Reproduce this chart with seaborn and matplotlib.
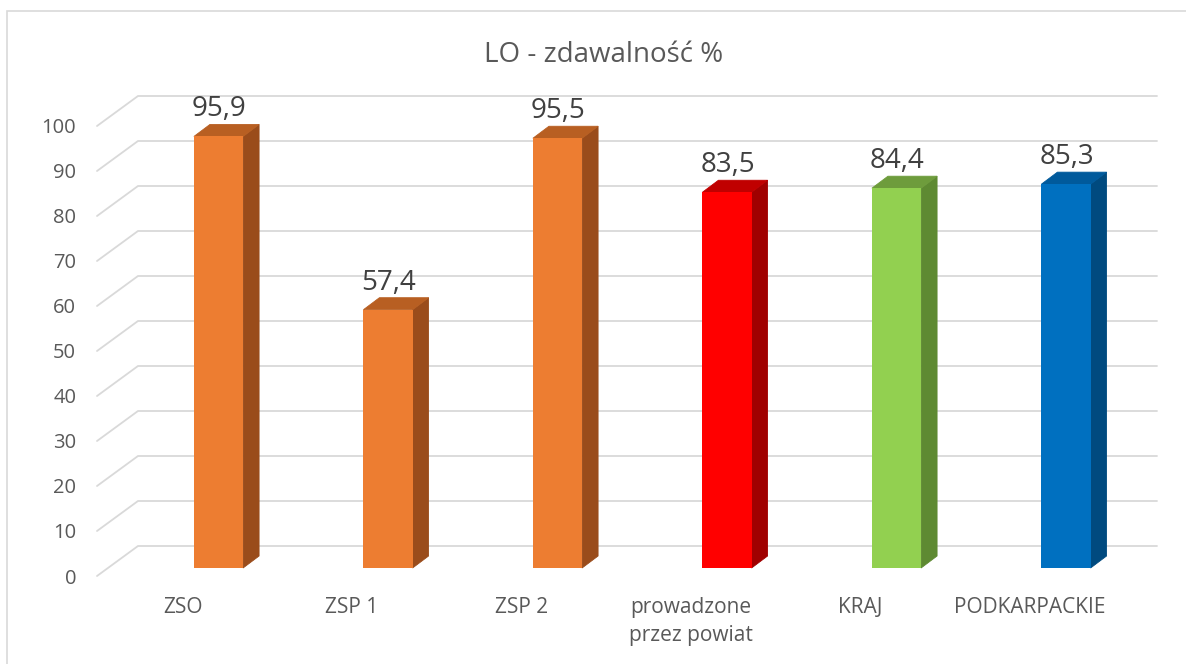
import matplotlib
matplotlib.use("Agg")
import matplotlib.pyplot as plt
import seaborn as sns
import pandas as pd
import numpy as np
from matplotlib.patches import Polygon, Rectangle
from matplotlib.transforms import ScaledTranslation

categories = ["ZSO", "ZSP 1", "ZSP 2", "prowadzone\nprzez powiat", "KRAJ", "PODKARPACKIE"]
values = [95.9, 57.4, 95.5, 83.5, 84.4, 85.3]
value_labels = ["95,9", "57,4", "95,5", "83,5", "84,4", "85,3"]
front_colors = ["#ED7D31", "#ED7D31", "#ED7D31", "#FF0000", "#92D050", "#0070C0"]
top_colors = ["#B85F22", "#B85F22", "#B85F22", "#C00000", "#6E9C3C", "#005A9C"]
side_colors = ["#9A4C1B", "#9A4C1B", "#9A4C1B", "#A00000", "#5E8A32", "#004A7F"]
yticks = [0, 10, 20, 30, 40, 50, 60, 70, 80, 90, 100]
title = "LO - zdawalność %"

sns.set_theme(style="white")
plt.rcParams["font.family"] = ["Open Sans", "DejaVu Sans"]

W, H = 1186, 664
fig = plt.figure(figsize=(W / 100, H / 100), dpi=100)
# axes spans pixel x 97..1157, y 60..596
ax_l, ax_r, ax_t, ax_b = 97, 1157, 60, 596
ax = fig.add_axes([ax_l / W, 1 - ax_b / H, (ax_r - ax_l) / W, (ax_b - ax_t) / H])

px_per_cat = 169.5
px_per_unit = 4.5
x0_px = 218.5  # center of first bar
xlim = ((ax_l - x0_px) / px_per_cat, (ax_r - x0_px) / px_per_cat)
base_px = 568
ylim = ((base_px - ax_b) / px_per_unit, (base_px - ax_t) / px_per_unit)

df = pd.DataFrame({"cat": categories, "val": values})
sns.barplot(data=df, x="cat", y="val", hue="cat", palette=front_colors,
            width=0.29, legend=False, ax=ax, saturation=1, zorder=4,
            edgecolor="none", linewidth=0)
ax.set_xlim(*xlim)
ax.set_ylim(*ylim)

# 3D geometry offsets (data units)
front_off = (base_px - 576) / px_per_unit
back_off = (base_px - 546) / px_per_unit
back_x = (138 - x0_px) / px_per_cat
depth_dx = 16 / px_per_cat
depth_dy = 12 / px_per_unit

grid_c = "#D9D9D9"
for v in yticks:
    ax.plot([xlim[0], back_x, xlim[1]], [v + front_off, v + back_off, v + back_off],
            color=grid_c, lw=1.3, zorder=1, clip_on=False, solid_joinstyle="miter")

for i, p in enumerate(ax.patches):
    x, y0 = p.get_x(), p.get_y()
    w, h = p.get_width(), p.get_height()
    top = y0 + h
    side = Polygon([(x + w, y0), (x + w + depth_dx, y0 + depth_dy),
                    (x + w + depth_dx, top + depth_dy), (x + w, top)],
                   closed=True, facecolor=side_colors[i], edgecolor=side_colors[i],
                   lw=0.6, zorder=3)
    topf = Polygon([(x, top), (x + depth_dx, top + depth_dy),
                    (x + w + depth_dx, top + depth_dy), (x + w, top)],
                   closed=True, facecolor=top_colors[i], edgecolor=top_colors[i],
                   lw=0.6, zorder=3)
    ax.add_patch(side)
    ax.add_patch(topf)
    ax.text(x + w / 2 + 0.005, top + depth_dy + 1.8, value_labels[i],
            ha="center", va="baseline", fontsize=20, color="#404040", zorder=5)

# y tick labels
ax.set_yticks([v + front_off for v in yticks])
ax.set_yticklabels([str(v) for v in yticks])
ax.tick_params(axis="y", length=0, pad=15, labelsize=14.5, labelcolor="#595959")
ax.tick_params(axis="x", length=0, pad=1, labelsize=15, labelcolor="#595959")
ax.set_xticks(range(len(categories)))
ax.set_xticklabels(categories, linespacing=1.4, va="top")
offset = ScaledTranslation(-36 / 100, 0, fig.dpi_scale_trans)
for lbl in ax.get_xticklabels():
    lbl.set_transform(lbl.get_transform() + offset)

ax.set_xlabel("")
ax.set_ylabel("")
for s in ax.spines.values():
    s.set_visible(False)
ax.grid(False)

fig.text(604 / W, 1 - 62 / H, title, ha="center", va="baseline", fontsize=20, color="#595959")

fig.patches.append(Rectangle((7 / W, -0.1), 1.2, 1 - 11 / H + 0.1, transform=fig.transFigure,
                             fill=False, edgecolor="#D9D9D9", lw=1.2))

fig.savefig("out.png", dpi=100)
